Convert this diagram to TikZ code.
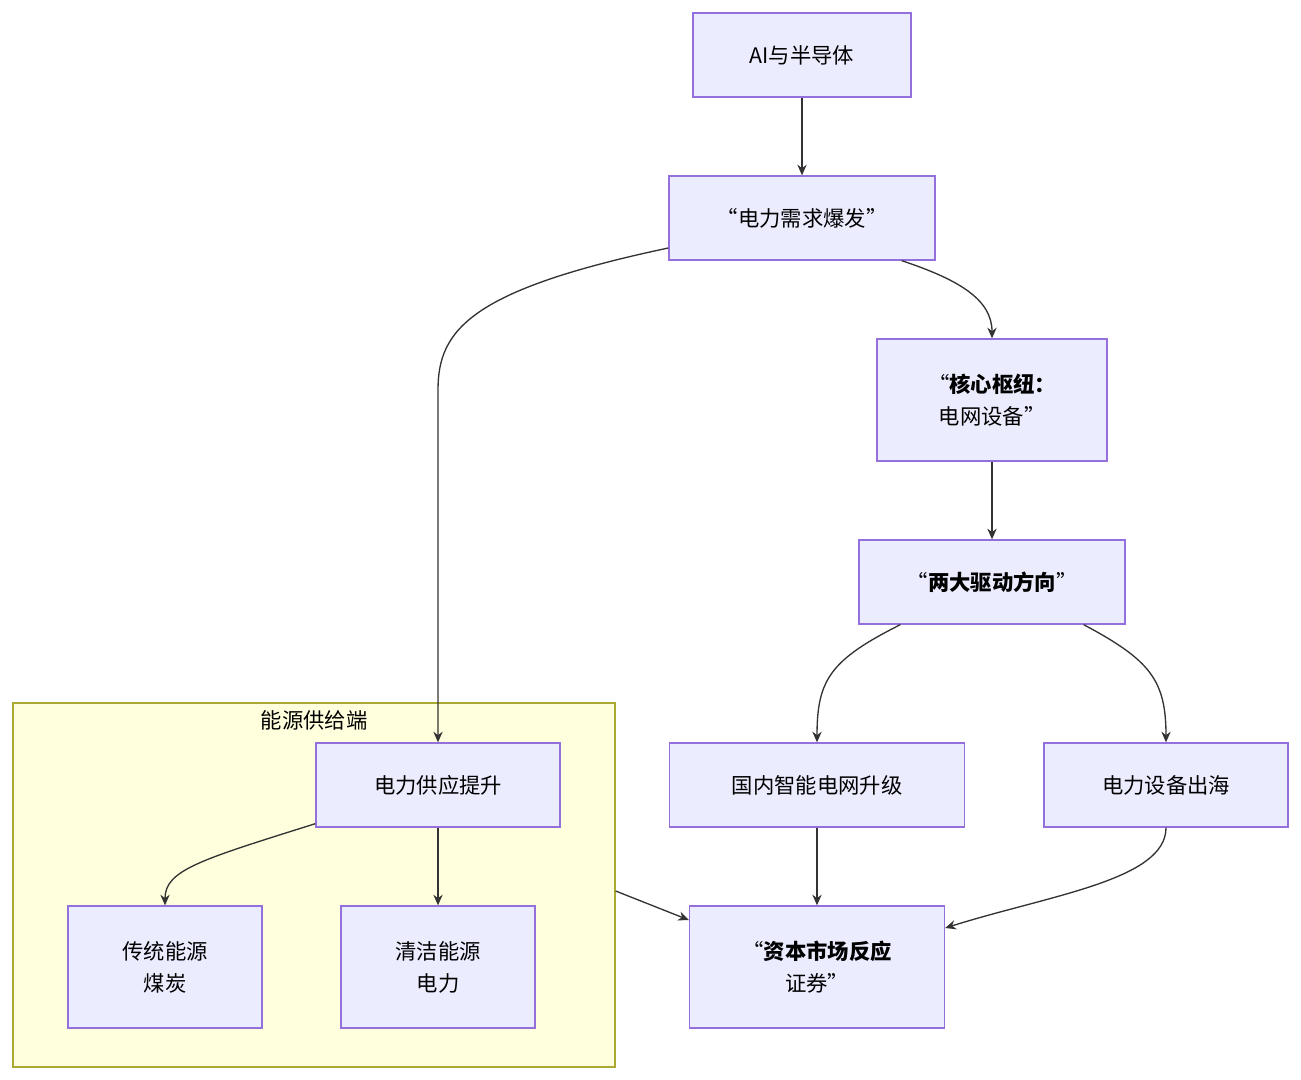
\documentclass[tikz,border=0pt]{standalone}
\usepackage{fontspec}
\setmainfont{Noto Sans CJK SC}
\usetikzlibrary{arrows.meta}
\begin{document}
\begin{tikzpicture}[x=0.75pt,y=-0.75pt,
  box/.style={draw=violet!60!blue!50, fill=boxfill, line width=1pt, align=center, font=\fontsize{16}{24}\selectfont, inner sep=0pt},
  arr/.style={draw=black!80, line width=1pt, -{Stealth[length=8pt,width=7pt]}}]
\definecolor{boxfill}{HTML}{ECECFF}
\definecolor{boxline}{HTML}{9370DB}
\definecolor{clfill}{HTML}{FFFFDE}
\definecolor{clline}{HTML}{AAAA33}
\tikzset{box/.append style={draw=boxline}}
\useasboundingbox (0,0) rectangle (1301,1080);
\node[draw=clline, fill=clfill, line width=1pt, minimum width=602*0.75pt, minimum height=364*0.75pt, inner sep=0pt] (cl) at (314,885) {};
\node[font=\fontsize{16}{20}\selectfont] (cll) at (314,720) {能源供给端};
\node[box, minimum width=218*0.75pt, minimum height=84*0.75pt] (ai) at (802,55) {AI与半导体};
\node[box, minimum width=266*0.75pt, minimum height=84*0.75pt] (dl) at (802,218) {“电力需求爆发”};
\node[box, minimum width=230*0.75pt, minimum height=122*0.75pt] (hx) at (992,400) {“\textbf{核心枢纽：}\\电网设备”};
\node[box, minimum width=266*0.75pt, minimum height=84*0.75pt] (ld) at (992,582) {“\textbf{两大驱动方向}”};
\node[box, minimum width=295*0.75pt, minimum height=84*0.75pt] (gn) at (817,785) {国内智能电网升级};
\node[box, minimum width=244*0.75pt, minimum height=84*0.75pt] (ch) at (1166,785) {电力设备出海};
\node[box, minimum width=255*0.75pt, minimum height=122*0.75pt] (zb) at (817,967) {“\textbf{资本市场反应}\\证券”};
\node[box, minimum width=244*0.75pt, minimum height=84*0.75pt] (gy) at (438,785) {电力供应提升};
\node[box, minimum width=194*0.75pt, minimum height=122*0.75pt] (ct) at (165,967) {传统能源\\煤炭};
\node[box, minimum width=194*0.75pt, minimum height=122*0.75pt] (qj) at (438,967) {清洁能源\\电力};
\draw[arr] (ai) -- (dl);
\draw[arr] (dl.south east) ++(-34,0) coordinate (a1) .. controls (960,280) and (992,300) .. (hx.north);
\draw[arr] (hx) -- (ld);
\draw[arr] (dl.west) ++(0,30) coordinate (a2) .. controls (470,290) and (438,330) .. (438,390) -- (gy.north);
\draw[arr] (ld.south west) ++(42,0) coordinate (a3) .. controls (830,660) and (817,680) .. (gn.north);
\draw[arr] (ld.south east) ++(-42,0) coordinate (a4) .. controls (1150,660) and (1166,680) .. (ch.north);
\draw[arr] (gn) -- (zb);
\draw[arr] (ch.south) .. controls (1166,880) and (1050,895) .. (zb.east |- 0,928);
\draw[arr] (cl.east |- 0,891) coordinate (a5) -- (zb.west |- 0,920);
\draw[arr] (gy.south west) ++(0,-4) coordinate (a6) .. controls (200,860) and (165,870) .. (ct.north);
\draw[arr] (gy) -- (qj);
\end{tikzpicture}
\end{document}
